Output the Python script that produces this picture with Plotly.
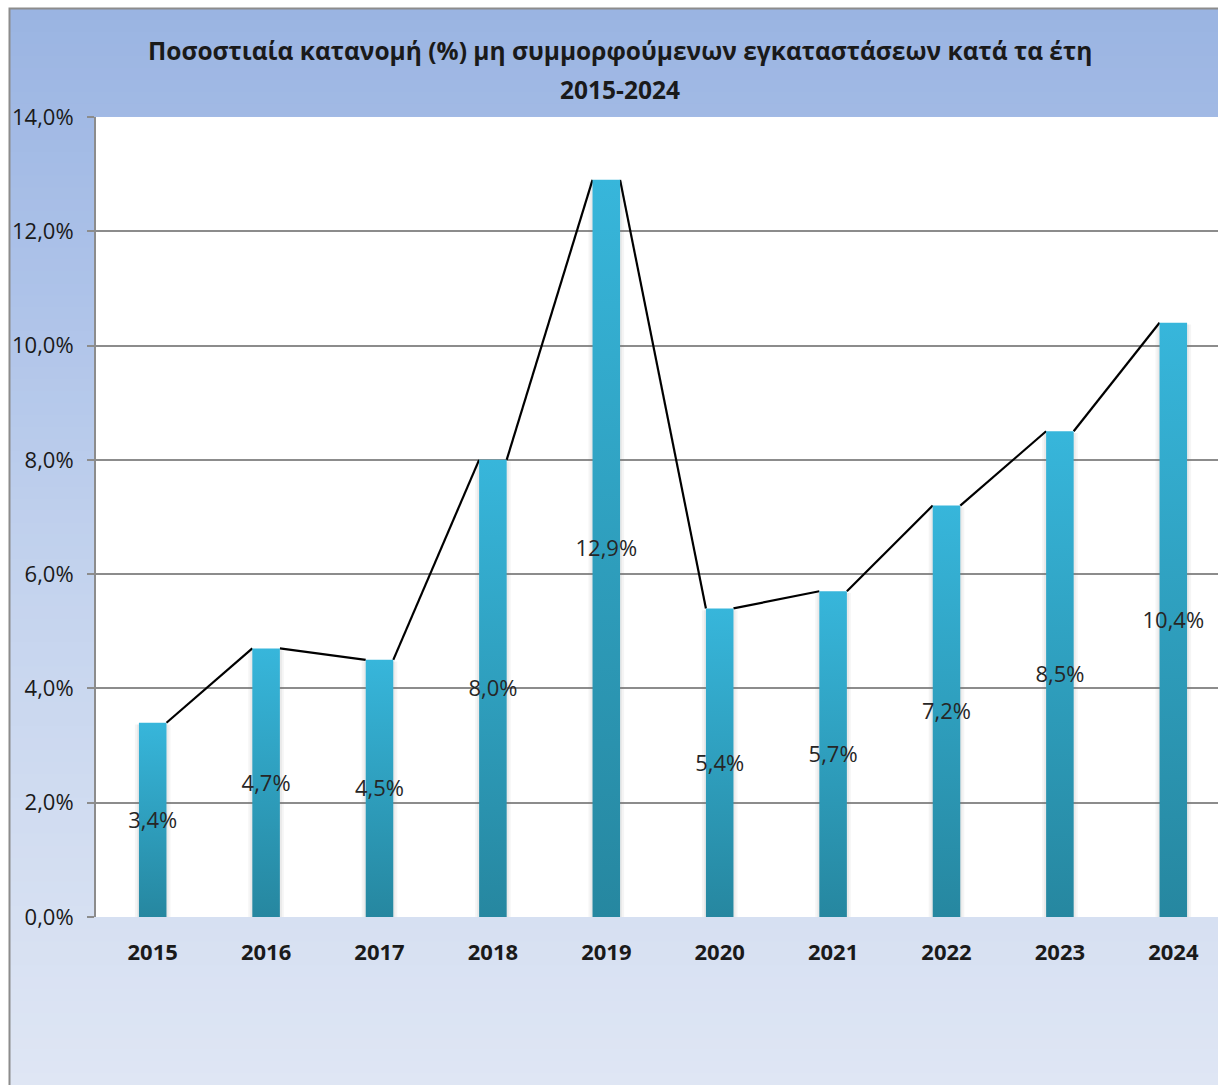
import plotly.graph_objects as go

# ---------------- data ----------------
years = ["2015", "2016", "2017", "2018", "2019", "2020", "2021", "2022", "2023", "2024"]
values = [3.4, 4.7, 4.5, 8.0, 12.9, 5.4, 5.7, 7.2, 8.5, 10.4]
y_ticks = [0, 2, 4, 6, 8, 10, 12, 14]
title_line1 = "Ποσοστιαία κατανομή (%) μη συμμορφούμενων εγκαταστάσεων κατά τα έτη"
title_line2 = "2015-2024"

# ---------------- geometry (page pixels) ----------------
W, H = 1218, 1085
ML, MT, MB, MR = 96, 117, 168, 0
PW = W - ML - MR
PH = H - MT - MB
CAT_PX = 113.4  # pixel width of a category
BAR_W = 0.243

def px2x(fx):
    return (fx - ML) / PW

def px2y(fy):
    return (H - MB - fy) / PH

def hex2rgb(h):
    h = h.lstrip("#")
    return tuple(int(h[i:i + 2], 16) for i in (0, 2, 4))

# background gradient stops (page y px -> colour)
stops = [(8, "#9AB4E2"), (300, "#AEC3E9"), (600, "#C5D4EE"), (1085, "#DFE6F4")]

def bg_color(fy):
    for (y0, c0), (y1, c1) in zip(stops[:-1], stops[1:]):
        if y0 <= fy <= y1:
            t = (fy - y0) / (y1 - y0)
            a, b = hex2rgb(c0), hex2rgb(c1)
            return "rgb(%d,%d,%d)" % tuple(round(a[k] + (b[k] - a[k]) * t) for k in range(3))
    return stops[-1][1]

shapes = []
N = 90
top = 8
for k in range(N):
    fy0 = top + (H - top) * k / N
    fy1 = top + (H - top) * (k + 1) / N + 1
    shapes.append(dict(type="rect", xref="paper", yref="paper", layer="below",
                       x0=px2x(9), x1=px2x(W + 5), y0=px2y(fy1), y1=px2y(fy0),
                       fillcolor=bg_color((fy0 + fy1) / 2), line=dict(width=0)))
# white plot area
shapes.append(dict(type="rect", xref="paper", yref="paper", layer="below",
                   x0=0, x1=1, y0=0, y1=1, fillcolor="white", line=dict(width=0)))
# chart border
shapes.append(dict(type="rect", xref="paper", yref="paper", layer="above",
                   x0=px2x(9.5), x1=px2x(W + 40), y0=px2y(H + 40), y1=px2y(8.5),
                   fillcolor="rgba(0,0,0,0)", line=dict(color="#8C8C8C", width=2)))

fig = go.Figure()

x_pos = list(range(len(years)))

# soft shadow around bars (two layers for a softer edge)
for spread, alpha in [(4.0, 0.07), (2.0, 0.08)]:
    SH = spread / CAT_PX
    for i, v in enumerate(values):
        x0, x1 = x_pos[i] - BAR_W / 2 - SH, x_pos[i] + BAR_W / 2 + SH
        fig.add_trace(go.Scatter(
            x=[x0, x1, x1, x0, x0], y=[0, 0, v - 0.03, v - 0.03, 0], mode="lines",
            fill="toself", line=dict(width=0, color="rgba(0,0,0,0)"),
            fillcolor="rgba(120,120,120,%s)" % alpha, hoverinfo="skip", showlegend=False))

# series lines between bar tops
lx, ly = [], []
for i in range(len(values) - 1):
    lx += [x_pos[i] + BAR_W / 2, x_pos[i + 1] - BAR_W / 2, None]
    ly += [values[i], values[i + 1], None]
fig.add_trace(go.Scatter(x=lx, y=ly, mode="lines", line=dict(color="black", width=2.2),
                         hoverinfo="skip", showlegend=False))

# gradient bars
for i, v in enumerate(values):
    x0, x1 = x_pos[i] - BAR_W / 2, x_pos[i] + BAR_W / 2
    fig.add_trace(go.Scatter(
        x=[x0, x1, x1, x0, x0], y=[0, 0, v, v, 0], mode="lines", fill="toself",
        line=dict(width=0, color="rgba(0,0,0,0)"),
        fillgradient=dict(type="vertical", colorscale=[[0, "#2687A0"], [1, "#37B6DB"]],
                          start=0, stop=v),
        name=years[i], hovertemplate=years[i] + ": %{y:.1f}%<extra></extra>", showlegend=False))

# data labels
labels = [("%.1f" % v).replace(".", ",") + "%" for v in values]
fig.add_trace(go.Scatter(x=x_pos, y=[v / 2 - 0.04 for v in values], mode="text", text=labels,
                         textfont=dict(family="Open Sans", size=22, color="#262626"),
                         hoverinfo="skip", showlegend=False))

annotations = [
    dict(text="<b>" + title_line1 + "</b>", xref="paper", yref="paper",
         x=px2x(620), y=px2y(50), xanchor="center", yanchor="middle", showarrow=False,
         font=dict(family="Open Sans", size=24.5, color="#1a1a1a")),
    dict(text="<b>" + title_line2 + "</b>", xref="paper", yref="paper",
         x=px2x(620), y=px2y(89), xanchor="center", yanchor="middle", showarrow=False,
         font=dict(family="Open Sans", size=24.5, color="#1a1a1a")),
]

fig.update_layout(
    width=W, height=H,
    margin=dict(l=ML, r=MR, t=MT, b=MB, pad=0),
    paper_bgcolor="white", plot_bgcolor="rgba(0,0,0,0)",
    separators=",.",
    shapes=shapes, annotations=annotations,
    showlegend=False,
    xaxis=dict(range=[-0.5, -0.5 + PW / CAT_PX], tickmode="array", tickvals=x_pos,
               ticktext=["<b>" + y + "</b>" for y in years], showgrid=False, zeroline=False,
               showline=False, ticks="", ticklabelstandoff=20,
               tickfont=dict(family="Open Sans", size=22, color="#1a1a1a"), fixedrange=True),
    yaxis=dict(range=[0, 14], tickmode="array", tickvals=y_ticks,
               ticktext=[("%.1f" % t).replace(".", ",") + "%" for t in y_ticks],
               showgrid=True, gridcolor="#8C8C8C", gridwidth=2, zeroline=False,
               showline=True, linecolor="#8C8C8C", linewidth=2,
               ticks="outside", ticklen=7, tickcolor="#8C8C8C", tickwidth=2,
               ticklabelstandoff=9,
               tickfont=dict(family="Open Sans", size=22, color="#1a1a1a"), fixedrange=True),
)

fig.write_html("out.html", config={"displayModeBar": False},
               post_script="document.body.style.margin='0';document.body.style.overflow='hidden';")
